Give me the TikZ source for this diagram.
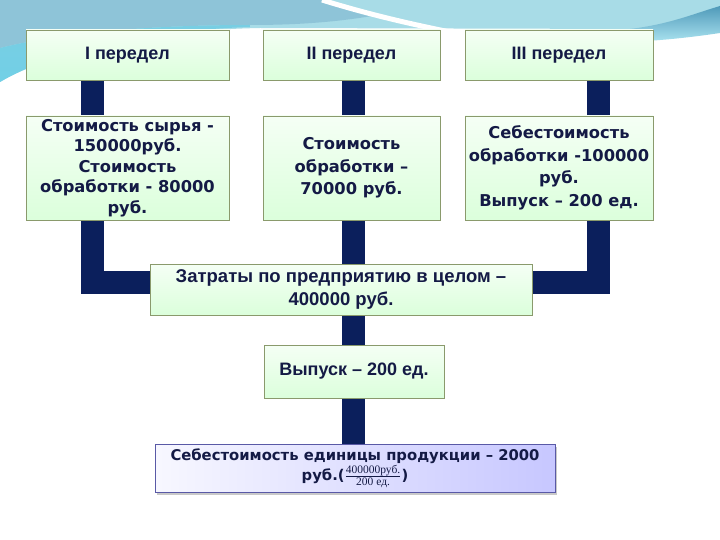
\documentclass[tikz,border=0pt]{standalone}
\usepackage{fontspec}
\setmainfont{Liberation Sans}
\newfontfamily\widefont{DejaVu Sans}
\newfontfamily\serifx{Liberation Serif}
\usetikzlibrary{calc,shadows}
\pgfdeclarelayer{bg}
\pgfdeclarelayer{bars}
\pgfsetlayers{bg,bars,main}
\definecolor{navy}{HTML}{0B1F5C}
\definecolor{txt}{HTML}{141A45}
\definecolor{boxline}{HTML}{8A9A6C}
\definecolor{skyA}{HTML}{8EC4D8}
\definecolor{skyB}{HTML}{A8DCE7}
\definecolor{skyC}{HTML}{5DB5DA}
\definecolor{skyD}{HTML}{72D0E6}
\tikzset{
  gbox/.style={draw=boxline, line width=0.8pt, top color=green!4!white, bottom color=green!14!white,
    align=center, text=txt, inner sep=2pt, font=\bfseries\fontsize{18}{22}\selectfont},
  wbox/.style={gbox, font=\widefont\bfseries\fontsize{16.3}{22.5}\selectfont},
  pbox/.style={draw=gray!70!blue, line width=0.8pt, left color=blue!3!white, right color=blue!22!white,
    align=center, text=txt, inner sep=2pt, font=\widefont\bfseries\fontsize{14.8}{20}\selectfont,
    drop shadow={shadow xshift=2pt, shadow yshift=-3pt, fill=gray!70, opacity=0.6}},
  bar/.style={draw=navy, line width=23pt, line join=miter, line cap=butt}
}
\newcommand{\fracpart}[1]{\mbox{\serifx\mdseries\fontsize{11.5}{11.5}\selectfont #1}}
\begin{document}
\begin{tikzpicture}[x=1pt,y=-1pt]
\useasboundingbox (0,0) rectangle (720,540);
% background swoosh
\begin{pgfonlayer}{bg}
\fill[white] (0,0) rectangle (720,540);
\fill[skyB] (0,0) -- (720,0) -- (720,10) .. controls (690,20) and (670,27) .. (645,29)
   -- (260,28) .. controls (150,30) and (50,52) .. (0,82) -- cycle;
\fill[skyA] (0,0) -- (322,0) .. controls (340,6) and (355,11) .. (372,16)
   .. controls (330,23) and (290,25) .. (250,25) .. controls (150,25) and (60,33) .. (0,48) -- cycle;
\shade[top color=skyD!80!skyA, bottom color=skyD] (0,48) .. controls (60,33) and (150,25) .. (250,25)
   -- (250,27) .. controls (150,30) and (50,52) .. (0,82) -- cycle;
\shade[top color=skyC!85!black, bottom color=skyD!60!white] (720,6) .. controls (690,15) and (670,24) .. (630,29)
   -- (630,42) .. controls (670,40) and (700,36) .. (720,33) -- cycle;
\draw[white, line width=5pt] (322,0) .. controls (380,18) and (430,28) .. (470,36);
\end{pgfonlayer}
% boxes
\node[gbox, minimum width=203pt, minimum height=50pt] (b1) at (127.5,55) {I передел};
\node[gbox, minimum width=177pt, minimum height=50pt] (b2) at (351.5,55) {II передел};
\node[gbox, minimum width=188pt, minimum height=50pt] (b3) at (559,55) {III передел};
\node[wbox, minimum width=203pt, minimum height=104pt, font=\widefont\bfseries\fontsize{16.3}{20.5}\selectfont] (b4) at (127.5,168)
  {Стоимость сырья -\\150000руб.\\Стоимость\\обработки - 80000\\руб.};
\node[wbox, minimum width=177pt, minimum height=104pt] (b5) at (351.5,168)
  {Стоимость\\обработки –\\70000 руб.};
\node[wbox, minimum width=188pt, minimum height=104pt] (b6) at (559,168)
  {Себестоимость\\обработки -100000\\руб.\\Выпуск – 200 ед.};
\node[gbox, minimum width=382pt, minimum height=51pt, font=\bfseries\fontsize{18.5}{23}\selectfont] (b7) at (341,289.5)
  {Затраты по предприятию в целом –\\400000 руб.};
\node[gbox, minimum width=180pt, minimum height=53pt] (b8) at (354,371.5) {Выпуск – 200 ед.};
\node[pbox, minimum width=400pt, minimum height=48pt] (b9) at (355,468)
  {Себестоимость единицы продукции – 2000\\руб.($\frac{\fracpart{400000руб.}}{\fracpart{200 ед.}}$)};
% connectors
\begin{pgfonlayer}{bars}
\draw[bar] ($(b1.south)+(-35,0)$) -- ($(b4.north)+(-35,0)$);
\draw[bar] ($(b2.south)+(2,0)$) -- ($(b5.north)+(2,0)$);
\draw[bar] ($(b3.south)+(39.5,0)$) -- ($(b6.north)+(39.5,0)$);
\draw[bar] ($(b4.south)+(-35,0)$) |- ($(b7.west)+(0,-7)$);
\draw[bar] ($(b6.south)+(39.5,0)$) |- ($(b7.east)+(0,-7)$);
\coordinate (m5) at ($(b5.south)+(2,0)$);
\draw[bar] (m5) -- (m5 |- b7.north);
\draw[bar] (m5 |- b7.south) -- (m5 |- b8.north);
\draw[bar] (m5 |- b8.south) -- (m5 |- b9.north);
\end{pgfonlayer}
\end{tikzpicture}
\end{document}
